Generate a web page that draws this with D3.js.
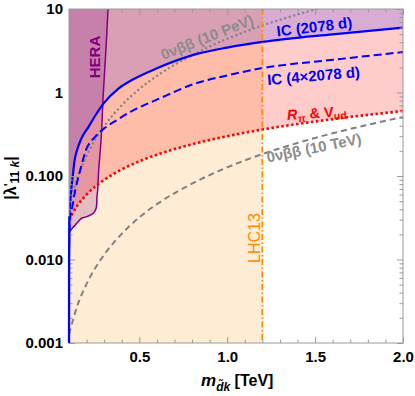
<!DOCTYPE html>
<html>
<head>
<meta charset="utf-8">
<script src="https://cdn.jsdelivr.net/npm/d3@7"></script>
<style>
body { margin: 0; background: #fff; }
text { font-family: "Liberation Sans", Arial, sans-serif; }
</style>
</head>
<body>
<svg id="chart" width="415" height="396"></svg>
<script>
// limits on |lambda'_11k| vs squark mass (TeV)
const icMass   = [0.1, 0.1003, 0.1017, 0.111, 0.121, 0.132, 0.146, 0.17, 0.212, 0.25, 0.297, 0.383, 0.458, 0.6, 0.828, 1.0, 1.2, 1.6, 2.0];
const icLimit  = [0.001, 0.01, 0.033, 0.062, 0.098, 0.155, 0.205, 0.28, 0.39, 0.53, 0.74, 1.12, 1.41, 1.95, 2.9, 3.45, 4.03, 4.98, 5.97];

const ic4Mass  = [0.1005, 0.104, 0.117, 0.136, 0.164, 0.197, 0.25, 0.297, 0.373, 0.458, 0.6, 0.828, 1.0, 1.2, 1.6, 2.0];
const ic4Limit = [0.015, 0.028, 0.041, 0.068, 0.118, 0.205, 0.296, 0.366, 0.469, 0.6, 0.82, 1.3, 1.6, 1.96, 2.46, 3.05];

const rpiMass  = [0.1, 0.15, 0.2, 0.3, 0.4, 0.5, 0.6, 0.8, 1.0, 1.2, 1.4, 1.6, 1.8, 2.0];
const rpiLimit = [0.03, 0.045, 0.06, 0.09, 0.12, 0.15, 0.18, 0.24, 0.30, 0.36, 0.42, 0.48, 0.54, 0.60];

const nuTeVMass  = [0.1, 0.15, 0.2, 0.3, 0.4, 0.5, 0.6, 0.8, 1.0, 1.2, 1.4, 1.6, 1.8, 2.0];
const nuTeVLimit = [0.00127, 0.0029, 0.0051, 0.0114, 0.0203, 0.032, 0.046, 0.081, 0.127, 0.183, 0.249, 0.325, 0.41, 0.51];

const nuPeVMass  = [0.1, 0.15, 0.2, 0.3, 0.4, 0.5, 0.6, 0.8, 1.0, 1.2, 1.4, 1.5, 1.55];
const nuPeVLimit = [0.044, 0.098, 0.175, 0.395, 0.70, 1.1, 1.58, 2.8, 4.4, 6.35, 8.6, 9.9, 10.6];

const heraMass  = [0.1, 0.107, 0.136, 0.174, 0.202, 0.24, 0.255, 0.259, 0.263, 0.269, 0.278, 0.286, 0.293, 0.31, 0.322];
const heraLimit = [0.021, 0.0221, 0.0259, 0.0314, 0.0326, 0.036, 0.0414, 0.0565, 0.068, 0.118, 0.205, 0.356, 0.81, 3.23, 10];

const lhcMass = 1.2;

const xTicks = [0.5, 1.0, 1.5, 2.0];
const yTicks = [0.001, 0.01, 0.1, 1, 10];
const yTickLabels = ["0.001", "0.010", "0.100", "1", "10"];

const svg = d3.select('#chart');
const margin = { left: 69, top: 9 };
const width = 334;
const height = 334;

const x = d3.scaleLinear().domain([0.1, 2.0]).range([0, width]);
const y = d3.scaleLog().domain([0.001, 10]).range([height, 0]);

const chart = svg.append('g')
    .attr('transform', `translate(${margin.left}, ${margin.top})`);

chart.append('clipPath').attr('id', 'plot-clip')
    .append('rect').attr('width', width).attr('height', height);

const plot = chart.append('g').attr('clip-path', 'url(#plot-clip)');

const pts = (ms, vs) => ms.map((m, i) => [m, vs[i]]);

const line = d3.line()
    .x(d => x(d[0]))
    .y(d => y(d[1]))
    .curve(d3.curveMonotoneX);

const areaAbove = d3.area()
    .x(d => x(d[0]))
    .y0(0)
    .y1(d => y(d[1]))
    .curve(d3.curveMonotoneX);

// LHC13 excluded band
plot.append('rect')
    .attr('x', x(0.1))
    .attr('y', 0)
    .attr('width', x(lhcMass) - x(0.1))
    .attr('height', height)
    .attr('fill', 'rgb(255,140,0)')
    .attr('fill-opacity', 0.17);

// R_pi & V_ud
plot.append('path')
    .datum(pts(rpiMass, rpiLimit))
    .attr('d', areaAbove)
    .attr('fill', 'rgb(255,0,0)')
    .attr('fill-opacity', 0.2);

// IceCube 2078 d
plot.append('path')
    .datum(pts(icMass, icLimit))
    .attr('d', areaAbove)
    .attr('fill', 'rgb(0,0,255)')
    .attr('fill-opacity', 0.15);

// HERA
const heraPts = pts(heraMass, heraLimit);
const heraPoly = heraPts.concat([[0.1, 10]]);
plot.append('path')
    .datum(heraPoly)
    .attr('d', d3.line().x(d => x(d[0])).y(d => y(d[1])).curve(d3.curveLinearClosed))
    .attr('fill', 'rgb(128,0,128)')
    .attr('fill-opacity', 0.2);

plot.append('path')
    .datum(heraPts)
    .attr('d', d3.line().x(d => x(d[0])).y(d => y(d[1])).curve(d3.curveCatmullRom))
    .attr('fill', 'none')
    .attr('stroke', '#800080')
    .attr('stroke-width', 1.5);

// curves
plot.append('path')
    .datum(pts(nuTeVMass, nuTeVLimit))
    .attr('d', line)
    .attr('fill', 'none')
    .attr('stroke', '#808080')
    .attr('stroke-width', 2)
    .attr('stroke-dasharray', '6,4');

plot.append('path')
    .datum(pts(nuPeVMass, nuPeVLimit))
    .attr('d', line)
    .attr('fill', 'none')
    .attr('stroke', '#858585')
    .attr('stroke-width', 2.2)
    .attr('stroke-dasharray', '2.2,2.5');

plot.append('path')
    .datum(pts(rpiMass, rpiLimit))
    .attr('d', line)
    .attr('fill', 'none')
    .attr('stroke', '#ff0000')
    .attr('stroke-width', 2.6)
    .attr('stroke-dasharray', '2.5,2.5');

plot.append('path')
    .datum(pts(ic4Mass, ic4Limit))
    .attr('d', line)
    .attr('fill', 'none')
    .attr('stroke', '#0000ff')
    .attr('stroke-width', 2)
    .attr('stroke-dasharray', '8,4');

plot.append('path')
    .datum(pts(icMass, icLimit))
    .attr('d', line)
    .attr('fill', 'none')
    .attr('stroke', '#0000ff')
    .attr('stroke-width', 2.2);

plot.append('line')
    .attr('x1', x(lhcMass)).attr('x2', x(lhcMass))
    .attr('y1', 0).attr('y2', height)
    .attr('stroke', '#ff8c00')
    .attr('stroke-width', 1.8)
    .attr('stroke-dasharray', '6,2.5,1.5,2.5');

// axes & frame
const xMinor = d3.range(0.1, 2.0001, 0.1).filter(v => !xTicks.some(t => Math.abs(t - v) < 1e-6));
const yMinor = [];
for (let e = -3; e < 1; e++) for (let k = 2; k < 10; k++) yMinor.push(k * Math.pow(10, e));

function styleAxis(g) {
    g.select('.domain').remove();
    g.selectAll('.tick line').attr('stroke', '#999');
    g.selectAll('.tick text')
        .attr('fill', '#000')
        .attr('font-size', 15)
        .attr('font-weight', 'bold')
        .attr('font-family', '"Liberation Sans", Arial, sans-serif');
}

chart.append('g').attr('transform', `translate(0, ${height})`)
    .call(d3.axisBottom(x).tickValues(xTicks).tickSize(-6).tickPadding(8).tickFormat(d3.format('.1f')))
    .call(styleAxis);
chart.append('g').attr('transform', `translate(0, ${height})`)
    .call(d3.axisBottom(x).tickValues(xMinor).tickSize(-3.5).tickFormat(''))
    .call(styleAxis);
chart.append('g')
    .call(d3.axisTop(x).tickValues(xTicks).tickSize(-6).tickFormat(''))
    .call(styleAxis);
chart.append('g')
    .call(d3.axisTop(x).tickValues(xMinor).tickSize(-3.5).tickFormat(''))
    .call(styleAxis);

chart.append('g')
    .call(d3.axisLeft(y).tickValues(yTicks).tickSize(-6).tickPadding(6).tickFormat((d, i) => yTickLabels[i]))
    .call(styleAxis);
chart.append('g')
    .call(d3.axisLeft(y).tickValues(yMinor).tickSize(-3.5).tickFormat(''))
    .call(styleAxis);
chart.append('g').attr('transform', `translate(${width}, 0)`)
    .call(d3.axisRight(y).tickValues(yTicks).tickSize(-6).tickFormat(''))
    .call(styleAxis);
chart.append('g').attr('transform', `translate(${width}, 0)`)
    .call(d3.axisRight(y).tickValues(yMinor).tickSize(-3.5).tickFormat(''))
    .call(styleAxis);

chart.append('rect')
    .attr('width', width).attr('height', height)
    .attr('fill', 'none')
    .attr('stroke', '#999')
    .attr('stroke-width', 1);

// left edge blue line sits on top of the frame
chart.append('path')
    .datum(pts(icMass, icLimit).slice(0, 3))
    .attr('d', line)
    .attr('fill', 'none')
    .attr('stroke', '#0000ff')
    .attr('stroke-width', 2.2);

// curve labels
function label(txt, cx, cy, angle, color, size, weight) {
    return svg.append('text')
        .attr('transform', `translate(${cx}, ${cy}) rotate(${angle})`)
        .attr('text-anchor', 'middle')
        .attr('fill', color)
        .attr('font-size', size)
        .attr('font-weight', weight || 'bold')
        .text(txt);
}

label('0νββ (10 PeV)', 209, 42, -21.5, '#8c8c8c', 15);
label('IC (2078 d)', 315, 32, -7, '#0000ee', 15);
label('IC (4×2078 d)', 314, 81, -5, '#0000ee', 15);
label('0νββ (10 TeV)', 315, 153, -11.5, '#8c8c8c', 15);
label('HERA', 100, 57, -90, '#800080', 15);
label('LHC13', 260, 238, -90, '#ff8c00', 16, 'normal');

const rpi = svg.append('text')
    .attr('transform', 'translate(317, 118) rotate(-4)')
    .attr('text-anchor', 'middle')
    .attr('fill', '#ff0000')
    .attr('font-size', 14.5)
    .attr('font-weight', 'bold');
rpi.append('tspan').attr('font-style', 'italic').text('R');
rpi.append('tspan').attr('font-size', 10.5).attr('dy', 3).text('π');
rpi.append('tspan').attr('dy', -3).text(' & V');
rpi.append('tspan').attr('font-size', 10.5).attr('dy', 3).text('ud');

// axis titles
const yTitle = svg.append('text')
    .attr('transform', 'translate(16, 178) rotate(-90)')
    .attr('text-anchor', 'middle')
    .attr('fill', '#000')
    .attr('font-size', 16)
    .attr('font-weight', 'bold');
yTitle.append('tspan').text('|λ');
yTitle.append('tspan').attr('font-size', 12).attr('dy', -3).text('\'');
yTitle.append('tspan').attr('font-size', 12).attr('dy', 6).text('11 ');
yTitle.append('tspan').attr('font-size', 12).attr('font-style', 'italic').text('k');
yTitle.append('tspan').attr('dy', -3).text('|');

const xTitle = svg.append('text')
    .attr('x', 201)
    .attr('y', 386)
    .attr('fill', '#000')
    .attr('font-size', 16)
    .attr('font-weight', 'bold');
xTitle.append('tspan').attr('font-style', 'italic').attr('font-size', 17).text('m');
xTitle.append('tspan').attr('font-style', 'italic').attr('font-size', 12).attr('dy', 5).text('d̃k');
xTitle.append('tspan').attr('dy', -5).text(' [TeV]');
</script>
</body>
</html>
